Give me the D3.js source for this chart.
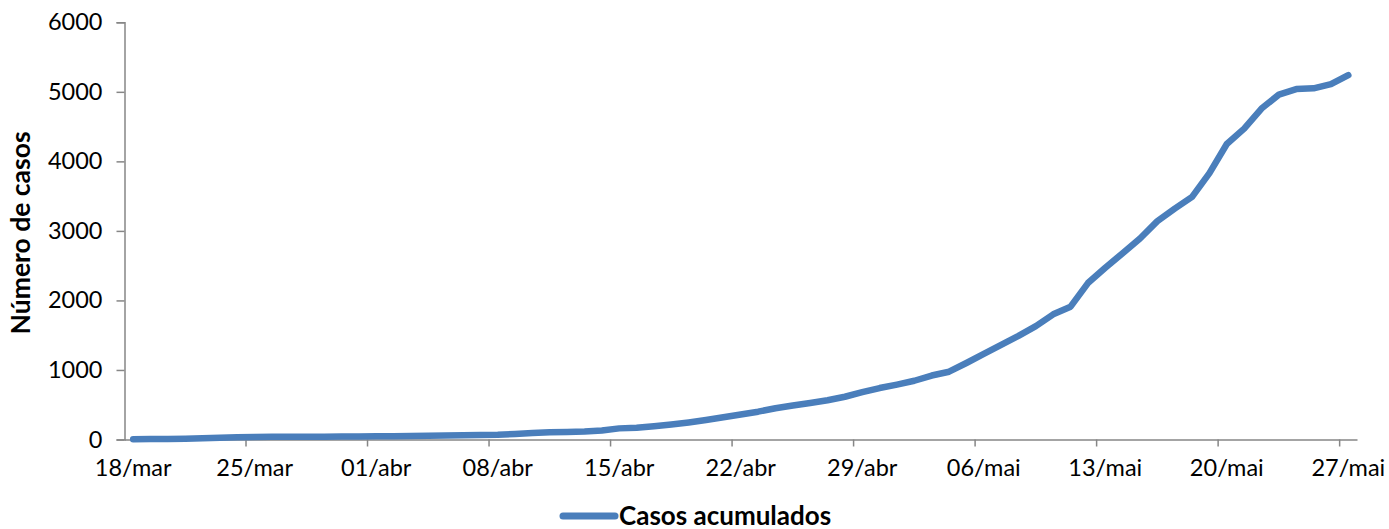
<!DOCTYPE html>
<html>
<head>
<meta charset="utf-8">
<script src="https://cdn.jsdelivr.net/npm/d3@7"></script>
<style>
  body { margin: 0; background: #fff; }
  text { font-family: Lato, "Open Sans", sans-serif; fill: #000; }
</style>
</head>
<body>
<svg id="chart" width="1389" height="529"></svg>
<script>
// daily dates, 18/mar to 27/mai
const startDate = new Date(2020, 2, 18);
const dates = d3.range(71).map(i => d3.timeDay.offset(startDate, i));

// cumulative cases
const casos = [
  3, 6, 8, 12, 19, 25, 31, 36, 38, 40,
  40, 41, 42, 44, 46, 48, 51, 53, 58, 62,
  66, 70, 80, 95, 105, 108, 115, 130, 160, 168,
  190, 215, 245, 280, 320, 360, 400, 450, 490, 525,
  565, 615, 680, 740, 790, 845, 920, 975, 1100, 1230,
  1360, 1490, 1630, 1800, 1910, 2250, 2470, 2680, 2890, 3140,
  3320, 3490, 3830, 4250, 4470, 4760, 4960, 5040, 5050, 5110,
  5240
];

const yTicks = [0, 1000, 2000, 3000, 4000, 5000, 6000];
const seriesName = "Casos acumulados";
const yTitle = "Número de casos";

const data = dates.map((d, i) => ({ date: d, value: casos[i] }));

const svg = d3.select("#chart");
const mLeft = 124.5, mRight = 1357, mTop = 22.3, mBottom = 439.5;

// band per day, like a date axis with points between tick marks
const x = d3.scaleBand()
  .domain(d3.range(dates.length))
  .range([mLeft, mRight])
  .paddingInner(0).paddingOuter(0);

const y = d3.scaleLinear().domain([0, 6000]).range([mBottom, mTop]);

const fmt = d3.timeFormat("%d/");
const meses = ["jan","fev","mar","abr","mai","jun","jul","ago","set","out","nov","dez"];
const label = d => fmt(d) + meses[d.getMonth()];

const axisColor = "#868686";

// y axis
const yAxis = svg.append("g")
  .attr("transform", `translate(${mLeft},0)`)
  .call(d3.axisLeft(y).tickValues(yTicks).tickSize(8).tickPadding(14).tickFormat(d3.format("d")));
yAxis.select(".domain").attr("stroke", axisColor).attr("stroke-width", 1.5);
yAxis.selectAll(".tick line").attr("stroke", axisColor).attr("stroke-width", 1.5);
yAxis.selectAll(".tick text").style("font-size", "23.5px").attr("font-family", "Lato, sans-serif");

// x axis
const weekIdx = d3.range(0, dates.length, 7);
const xAxis = svg.append("g")
  .attr("transform", `translate(0,${mBottom})`)
  .call(d3.axisBottom(x).tickValues(weekIdx).tickSize(0).tickPadding(20).tickFormat(i => label(dates[i])));
xAxis.select(".domain").attr("stroke", axisColor).attr("stroke-width", 1.5);
xAxis.selectAll(".tick text").style("font-size", "23.5px").attr("font-family", "Lato, sans-serif");

// tick marks at the start of each weekly band
svg.append("g").selectAll("line")
  .data(weekIdx.slice(1))
  .enter().append("line")
  .attr("x1", i => x(i)).attr("x2", i => x(i))
  .attr("y1", mBottom).attr("y2", mBottom + 7)
  .attr("stroke", axisColor).attr("stroke-width", 1.5);

// y axis title
svg.append("text")
  .attr("transform", `translate(30,${(mTop + mBottom) / 2 + 2}) rotate(-90)`)
  .attr("text-anchor", "middle")
  .style("font-size", "26.5px").style("font-weight", "bold")
  .text(yTitle);

// line
const line = d3.line()
  .x((d, i) => x(i) + x.bandwidth() / 2)
  .y(d => y(d.value));

svg.append("path")
  .datum(data)
  .attr("d", line)
  .attr("fill", "none")
  .attr("stroke", "#4a7ebb")
  .attr("stroke-width", 6.5)
  .attr("stroke-linecap", "round")
  .attr("stroke-linejoin", "round");

// legend
const lg = svg.append("g").attr("transform", "translate(0,516)");
lg.append("line")
  .attr("x1", 563).attr("x2", 615).attr("y1", 0).attr("y2", 0)
  .attr("stroke", "#4a7ebb").attr("stroke-width", 7).attr("stroke-linecap", "round");
lg.append("text")
  .attr("x", 619).attr("y", 8.5)
  .style("font-size", "26px").style("font-weight", "bold")
  .text(seriesName);
</script>
</body>
</html>
